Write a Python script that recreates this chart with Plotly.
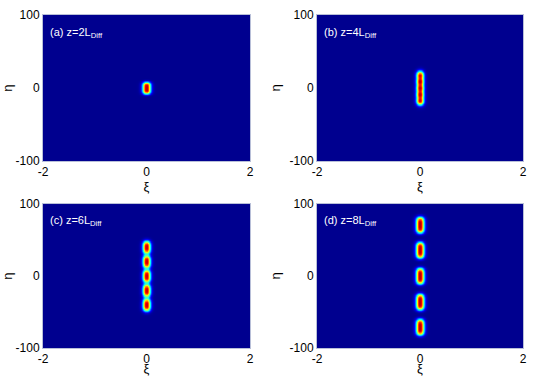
import numpy as np
import plotly.graph_objects as go
from plotly.subplots import make_subplots

# panel labels (propagation distance in diffraction lengths)
labels = ["(a) z=2L<sub>Diff</sub>", "(b) z=4L<sub>Diff</sub>",
          "(c) z=6L<sub>Diff</sub>", "(d) z=8L<sub>Diff</sub>"]

# spot centres along eta for each panel (all sit at xi = 0)
eta_a = [0]
eta_b = [-18, -9, 0, 9, 18]
eta_c = [-40, -20, 0, 20, 40]
eta_d = [-71, -36, 0, 36, 71]

# spot half-sizes (xi, eta), flatness exponent and peak heights, read by eye
size_a = (0.055, 7.0, 4)
size_b = (0.050, 4.0, 2)
size_c = (0.052, 7.0, 3)
size_d = (0.055, 9.5, 4)
peak = [0.95, 0.95, 0.94, 0.95]

xticks = [-2, 0, 2]
xticktext = ["-2", "0", "2"]
yticks = [-100, 0, 100]
yticktext = ["-100", "0", "100"]

xi = np.linspace(-2, 2, 401)
eta = np.linspace(-100, 100, 401)
X, Y = np.meshgrid(xi, eta)

jet = [[0, "rgb(0,0,143)"], [0.125, "rgb(0,0,255)"], [0.375, "rgb(0,255,255)"],
       [0.625, "rgb(255,255,0)"], [0.875, "rgb(255,0,0)"], [1, "rgb(128,0,0)"]]


def field(centres, size, amp):
    sx, sy, p = size
    z = np.zeros_like(X)
    for c in centres:
        z = z + np.exp(-(X / sx) ** 2 / 2 - np.abs((Y - c) / sy) ** p / 2)
    return np.round(z / z.max() * amp, 3)


fig = make_subplots(rows=2, cols=2)
panels = [(eta_a, size_a), (eta_b, size_b), (eta_c, size_c), (eta_d, size_d)]
xdom = [[0.0783, 0.4554], [0.5774, 0.9526]]
ydom = [[0.5718, 0.9601], [0.0745, 0.4574]]

for i, (centres, size) in enumerate(panels):
    r, c = i // 2 + 1, i % 2 + 1
    fig.add_trace(go.Heatmap(x=xi, y=eta, z=field(centres, size, peak[i]),
                             colorscale=jet, zmin=0, zmax=1, zsmooth="best",
                             showscale=False), row=r, col=c)
    fig.update_xaxes(domain=xdom[c - 1], range=[-2, 2], tickvals=xticks, ticktext=xticktext,
                     title_text="ξ", title_standoff=0, row=r, col=c)
    fig.update_yaxes(domain=ydom[r - 1], range=[-100, 100], tickvals=yticks, ticktext=yticktext,
                     title_text="η", title_standoff=6, row=r, col=c)
    fig.add_annotation(text=labels[i], xref="x domain" if i == 0 else "x%d domain" % (i + 1),
                       yref="y domain" if i == 0 else "y%d domain" % (i + 1),
                       x=0.025, y=0.88, xanchor="left", yanchor="middle", showarrow=False,
                       font=dict(color="white", size=11))

fig.update_xaxes(showgrid=False, zeroline=False, showline=True, mirror=True,
                 linecolor="#b8bfd8", linewidth=1, ticks="", ticklen=0, automargin=False,
                 tickfont=dict(size=12, color="black"), title_font=dict(size=13))
fig.update_yaxes(showgrid=False, zeroline=False, showline=True, mirror=True,
                 linecolor="#b8bfd8", linewidth=1, ticks="", ticklen=0, automargin=False,
                 tickfont=dict(size=12, color="black"), title_font=dict(size=13))

fig.update_layout(width=549, height=376, margin=dict(l=0, r=0, t=0, b=0),
                  paper_bgcolor="white", plot_bgcolor="white",
                  font=dict(family="Liberation Sans, Arial, sans-serif", color="black"))

fig.write_html("out.html", config={"displayModeBar": False},
               post_script="document.body.style.margin='0';")
